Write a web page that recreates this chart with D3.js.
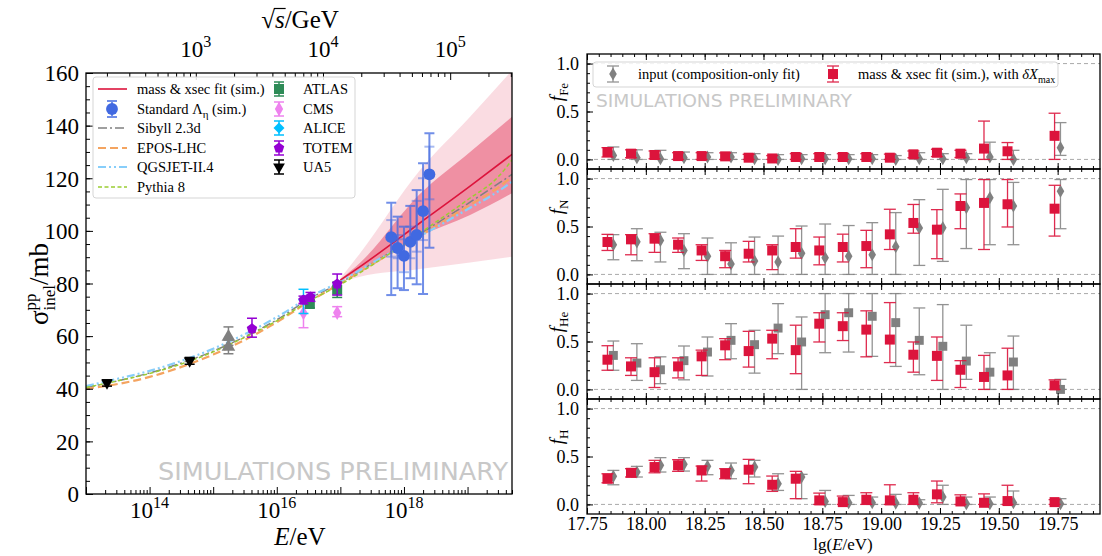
<!DOCTYPE html>
<html>
<head>
<meta charset="utf-8">
<script src="https://cdn.jsdelivr.net/npm/d3@7"></script>
<style>
  body { margin: 0; background: #fff; }
</style>
</head>
<body>
<svg id="chart" width="1102" height="556"></svg>
<script>
// ---------- left panel: cross-section vs energy ----------
// model curves, sampled in lg(E/eV)
const modelLg = [13, 13.5, 14, 14.5, 15, 15.5, 16, 16.5, 17, 17.5, 18, 18.5, 19, 19.5, 19.7];
const sibyll  = [40.5, 43.0, 46.0, 49.8, 54.3, 59.8, 66.2, 74.0, 80.3, 87.6, 95.0, 102.6, 110.3, 118.2, 121.5];
const epos    = [40.0, 41.8, 44.5, 48.3, 53.0, 58.6, 65.3, 73.0, 80.0, 87.3, 94.5, 101.8, 109.3, 116.8, 120.6];
const qgsjet  = [41.0, 43.8, 46.8, 50.6, 55.2, 60.8, 67.2, 74.6, 80.8, 87.8, 94.6, 101.3, 108.2, 115.3, 118.7];
const pythia  = [40.5, 43.0, 45.8, 49.4, 54.0, 59.6, 65.8, 73.2, 79.6, 87.0, 95.0, 103.3, 111.8, 121.0, 127.0];

// mass & xsec fit with 1 and 2 sigma bands
const fitLg  = [17.0, 17.31, 18.25, 19.04, 19.7];
const fitMid = [81.3, 86.4, 103.0, 117.0, 129.1];
const fit1Lo = [81.0, 85.1, 98.0, 106.0, 114.3];
const fit1Hi = [81.6, 87.9, 114.0, 130.0, 143.4];
const fit2Lo = [80.6, 82.6, 85.5, 88.0, 90.2];
const fit2Hi = [82.0, 91.5, 123.0, 143.4, 161.0];

// simulated points, Standard Lambda_eta
const simLg    = [17.8, 17.9, 18.0, 18.1, 18.2, 18.3, 18.4];
const simSig   = [97.6, 93.5, 90.5, 95.8, 98.5, 107.5, 121.5];
const simLo    = [75.6, 78.2, 77.5, 82.0, 79.7, 76.0, 93.6];
const simHi    = [110.7, 105.4, 101.6, 109.5, 115.5, 125.7, 137.1];
const simInLo  = [90.2, 89.6, 84.3, 89.6, 92.1, 96.5, 112.0];
const simInHi  = [104.1, 98.4, 96.8, 101.6, 111.4, 120.0, 132.0];

// accelerator measurements
const ua5Lg = [13.33, 14.63], ua5Sig = [42.2, 50.6], ua5Lo = [41.0, 49.3], ua5Hi = [43.4, 51.9];
const tevLg = [15.24, 15.24], tevSig = [59.7, 55.9], tevLo = [56.5, 53.3], tevHi = [63.5, 58.5];
const totemLg = [15.61, 16.42, 16.53, 16.95], totemSig = [62.8, 73.7, 74.9, 79.8];
const totemLo = [59.6, 72.3, 73.2, 75.6], totemHi = [66.8, 75.2, 76.6, 83.6];
const aliceLg = [16.42], aliceSig = [73.8], aliceLo = [68.6], aliceHi = [77.8];
const atlasLg = [16.52, 16.95], atlasSig = [72.2, 77.6], atlasLo = [70.8, 74.7], atlasHi = [73.6, 80.5];
const cmsLg = [16.42, 16.95], cmsSig = [68.8, 68.9], cmsLo = [63.2, 67.4], cmsHi = [72.6, 71.2];

const bottomExp = [14, 16, 18];
const topExp = [3, 4, 5];

// ---------- right panels: composition fractions ----------
const binLg = [17.85, 17.95, 18.05, 18.15, 18.25, 18.35, 18.45, 18.55, 18.65, 18.75,
               18.85, 18.95, 19.05, 19.15, 19.25, 19.35, 19.45, 19.55, 19.75];

const feRed    = [0.077,0.060,0.046,0.035,0.035,0.032,0.018,0.010,0.025,0.025,0.025,0.025,0.018,0.053,0.070,0.060,0.113,0.085,0.246];
const feRedLo  = [0.025,0.018,0.007,0.000,0.000,0.000,0.000,0.000,0.000,0.000,0.000,0.000,0.000,0.018,0.030,0.020,0.000,0.000,0.000];
const feRedHi  = [0.123,0.100,0.088,0.070,0.070,0.068,0.053,0.040,0.060,0.060,0.060,0.060,0.055,0.088,0.106,0.095,0.400,0.176,0.482];
const feGray   = [0.042,0.018,0.007,0.018,0.025,0.025,0.007,0.000,0.007,0.007,0.007,0.007,0.000,0.007,0.007,0.018,0.025,0.000,0.123];
const feGrayLo = [0,0,0,0,0,0,0,0,0,0,0,0,0,0,0,0,0,0,0.042];
const feGrayHi = [0.130,0.100,0.095,0.077,0.070,0.070,0.060,0.050,0.050,0.050,0.050,0.050,0.040,0.070,0.060,0.060,0.180,0.095,0.384];

const nRed    = [0.338,0.366,0.373,0.310,0.250,0.190,0.216,0.250,0.286,0.250,0.286,0.296,0.418,0.537,0.467,0.714,0.746,0.732,0.686];
const nRedLo  = [0.250,0.205,0.230,0.230,0.146,0.070,0.130,0.050,0.170,0.100,0.130,0.070,0.260,0.430,0.164,0.477,0.260,0.495,0.400];
const nRedHi  = [0.418,0.415,0.425,0.380,0.310,0.250,0.345,0.310,0.477,0.390,0.420,0.460,0.680,0.730,0.676,0.840,0.990,0.990,0.930];
const nGray   = [0.310,0.340,0.355,0.250,0.190,0.110,0.140,0.130,0.220,0.174,0.190,0.205,0.290,0.484,0.488,0.697,0.800,0.714,0.868];
const nGrayLo = [0.153,0.143,0.130,0.060,0,0,0,0,0,0,0,0,0,0.094,0.136,0.270,0.310,0.310,0.477];
const nGrayHi = [0.415,0.477,0.440,0.425,0.380,0.330,0.390,0.400,0.505,0.526,0.510,0.540,0.645,0.780,0.888,0.990,0.990,0.960,0.990];

const heRed    = [0.310,0.240,0.180,0.240,0.345,0.460,0.400,0.530,0.410,0.686,0.660,0.624,0.520,0.362,0.350,0.205,0.130,0.146,0.042];
const heRedLo  = [0.200,0.146,0.020,0.120,0.146,0.310,0.233,0.320,0.164,0.495,0.510,0.340,0.280,0.180,0.094,0.020,0,0,0];
const heRedHi  = [0.456,0.330,0.330,0.330,0.410,0.530,0.606,0.617,0.670,0.800,0.800,0.820,0.906,0.495,0.547,0.300,0.355,0.430,0.100];
const heGray   = [0.355,0.275,0.205,0.300,0.390,0.512,0.467,0.640,0.495,0.780,0.800,0.763,0.697,0.512,0.450,0.296,0.180,0.286,0.000];
const heGrayLo = [0.200,0.094,0.060,0.100,0.140,0.320,0.170,0.373,0,0.383,0.390,0.345,0.240,0.153,0,0.105,0,0,0];
const heGrayHi = [0.505,0.477,0.340,0.453,0.547,0.686,0.617,0.895,0.756,1.0,1.0,1.0,1.0,0.850,0.885,0.670,0.383,0.557,0.105];

const hRed    = [0.268,0.330,0.390,0.408,0.355,0.320,0.362,0.205,0.268,0.042,0.024,0.049,0.042,0.049,0.105,0.031,0.017,0.035,0.024];
const hRedLo  = [0.226,0.286,0.330,0.345,0.244,0.268,0.216,0.136,0.060,0,0,0,0,0,0.017,0,0,0,0];
const hRedHi  = [0.320,0.373,0.460,0.467,0.400,0.373,0.470,0.296,0.345,0.118,0.087,0.122,0.205,0.122,0.244,0.100,0.110,0.200,0.050];
const hGray   = [0.293,0.338,0.408,0.418,0.397,0.355,0.390,0.216,0.286,0.031,0.017,0.017,0.014,0.014,0.077,0.007,0.007,0.017,0.007];
const hGrayLo = [0.205,0.286,0.338,0.348,0.310,0.268,0.286,0.146,0.060,0,0,0,0,0,0,0,0,0,0];
const hGrayHi = [0.355,0.397,0.488,0.488,0.460,0.432,0.460,0.320,0.314,0.146,0.094,0.077,0.105,0.049,0.200,0.077,0.077,0.140,0.060];

const xTickLabels = [17.75, 18.00, 18.25, 18.50, 18.75, 19.00, 19.25, 19.50, 19.75];
const fTicks = [0, 0.5, 1.0];

// ------------------------------------------------------------
const SERIF = "'Liberation Serif','Times New Roman',serif";
const svg = d3.select("#chart");

function errBar(g, x, y0, y1, color, cap, sw, op) {
  const e = g.append("g").attr("stroke", color).attr("stroke-width", sw).attr("opacity", op);
  e.append("line").attr("x1", x).attr("x2", x).attr("y1", y0).attr("y2", y1);
  e.append("line").attr("x1", x - cap / 2).attr("x2", x + cap / 2).attr("y1", y0).attr("y2", y0);
  e.append("line").attr("x1", x - cap / 2).attr("x2", x + cap / 2).attr("y1", y1).attr("y2", y1);
}

function pentagon(r) {
  const pts = d3.range(5).map(k => {
    const a = -Math.PI / 2 + k * 2 * Math.PI / 5;
    return [r * Math.cos(a), r * Math.sin(a)];
  });
  return "M" + pts.join("L") + "Z";
}

function mark(g, kind, x, y, color, size) {
  let path, tr = "translate(" + x + "," + y + ")";
  if (kind == "circle") path = d3.symbol(d3.symbolCircle, size || 100)();
  if (kind == "square") path = d3.symbol(d3.symbolSquare, size || 100)();
  if (kind == "dthin") path = d3.symbol(d3.symbolDiamond, size || 50)();
  if (kind == "D") { path = d3.symbol(d3.symbolSquare, size || 64)(); tr += " rotate(45)"; }
  if (kind == "v") { path = d3.symbol(d3.symbolTriangle, size || 60)(); tr += " rotate(180)"; }
  if (kind == "^") path = d3.symbol(d3.symbolTriangle, size || 80)();
  if (kind == "p") path = pentagon(size || 5.5);
  g.append("path").attr("d", path).attr("transform", tr).attr("fill", color);
}

function styleAxis(g, fs) {
  g.select(".domain").remove();
  g.selectAll(".tick line").attr("stroke", "#000").attr("stroke-width", 1);
  g.attr("font-family", SERIF).attr("font-size", fs);
  g.selectAll(".tick text").attr("fill", "#000");
}

// ================= LEFT PANEL =================
const L = {x0: 86, x1: 512, y0: 73, y1: 494};
const mp = 0.938;
const sqrtS = e => Math.sqrt(2 * mp * e / 1e9);
const xE = d3.scaleLog().domain([1e13, 5e19]).range([L.x0, L.x1]);
const xS = d3.scaleLog().domain([sqrtS(1e13), sqrtS(5e19)]).range([L.x0, L.x1]);
const yS = d3.scaleLinear().domain([0, 160]).range([L.y1, L.y0]);
const X = lg => xE(Math.pow(10, lg));

svg.append("clipPath").attr("id", "clipL").append("rect")
  .attr("x", L.x0).attr("y", L.y0).attr("width", L.x1 - L.x0).attr("height", L.y1 - L.y0);

const lp = svg.append("g").attr("clip-path", "url(#clipL)");

// bands
const band = d3.area().x(d => X(d[0])).y0(d => yS(d[1])).y1(d => yS(d[2])).curve(d3.curveMonotoneX);
lp.append("path").attr("d", band(fitLg.map((v, i) => [v, fit2Lo[i], fit2Hi[i]])))
  .attr("fill", "crimson").attr("fill-opacity", 0.15);
lp.append("path").attr("d", band(fitLg.map((v, i) => [v, fit1Lo[i], fit1Hi[i]])))
  .attr("fill", "crimson").attr("fill-opacity", 0.38);

// model lines
const line = d3.line().x(d => X(d[0])).y(d => yS(d[1])).curve(d3.curveMonotoneX);
const models = [
  {v: sibyll, c: "#808080", w: 1.5, dash: "9,3,2,3", name: "Sibyll 2.3d"},
  {v: epos, c: "#f4a460", w: 2.2, dash: "8,4", name: "EPOS-LHC"},
  {v: qgsjet, c: "#87cefa", w: 2.2, dash: "8,3,2,3,2,3", name: "QGSJET-II.4"},
  {v: pythia, c: "#9acd32", w: 1.5, dash: "4,2.5", name: "Pythia 8"}
];
models.forEach(m => {
  lp.append("path").attr("d", line(modelLg.map((v, i) => [v, m.v[i]])))
    .attr("fill", "none").attr("stroke", m.c).attr("stroke-width", m.w).attr("stroke-dasharray", m.dash);
});
lp.append("path").attr("d", line(fitLg.map((v, i) => [v, fitMid[i]])))
  .attr("fill", "none").attr("stroke", "crimson").attr("stroke-width", 1.6);

// measurements
function series(lgs, sig, lo, hi, kind, color, size) {
  lgs.forEach((v, i) => {
    errBar(lp, X(v), yS(lo[i]), yS(hi[i]), color, 10, 1.5, 1);
    mark(lp, kind, X(v), yS(sig[i]), color, size);
  });
}
series(tevLg, tevSig, tevLo, tevHi, "^", "#808080", 80);
series(ua5Lg, ua5Sig, ua5Lo, ua5Hi, "v", "#000", 60);
series(cmsLg, cmsSig, cmsLo, cmsHi, "dthin", "violet", 60);
series(atlasLg, atlasSig, atlasLo, atlasHi, "square", "seagreen", 100);
series(aliceLg, aliceSig, aliceLo, aliceHi, "D", "deepskyblue", 60);
series(totemLg, totemSig, totemLo, totemHi, "p", "darkviolet", 5.5);

// simulated points
simLg.forEach((v, i) => {
  errBar(lp, X(v), yS(simLo[i]), yS(simHi[i]), "royalblue", 10, 2, 0.75);
  errBar(lp, X(v), yS(simInLo[i]), yS(simInHi[i]), "royalblue", 10, 2, 0.45);
  mark(lp, "circle", X(v), yS(simSig[i]), "royalblue", 110);
});

// axes
const yAx = svg.append("g").attr("transform", "translate(" + L.x0 + ",0)")
  .call(d3.axisLeft(yS).tickValues(d3.range(0, 161, 20)).tickSize(-7).tickSizeOuter(0).tickPadding(7));
styleAxis(yAx, 23);
yAx.selectAll(".tick text").attr("dy", "0.34em");
const yAxm = svg.append("g").attr("transform", "translate(" + L.x0 + ",0)")
  .call(d3.axisLeft(yS).tickValues(d3.range(0, 161, 5)).tickSize(-4).tickSizeOuter(0).tickFormat(""));
styleAxis(yAxm, 10);

const majE = d3.range(13, 20).map(d => Math.pow(10, d));
const minE = [];
d3.range(13, 20).forEach(d => d3.range(2, 10).forEach(m => { if (m * Math.pow(10, d) <= 5e19) minE.push(m * Math.pow(10, d)); }));
const xb = svg.append("g").attr("transform", "translate(0," + L.y1 + ")")
  .call(d3.axisBottom(xE).tickValues(majE).tickSize(-7).tickSizeOuter(0).tickFormat(""));
styleAxis(xb, 10);
const xbm = svg.append("g").attr("transform", "translate(0," + L.y1 + ")")
  .call(d3.axisBottom(xE).tickValues(minE).tickSize(-4).tickSizeOuter(0).tickFormat(""));
styleAxis(xbm, 10);

const majS = [100, 1000, 10000, 100000];
const minS = [];
d3.range(2, 6).forEach(d => d3.range(2, 10).forEach(m => {
  const v = m * Math.pow(10, d);
  if (v >= sqrtS(1e13) && v <= sqrtS(5e19)) minS.push(v);
}));
const xt = svg.append("g").attr("transform", "translate(0," + L.y0 + ")")
  .call(d3.axisTop(xS).tickValues(majS.filter(v => v >= sqrtS(1e13))).tickSize(-7).tickSizeOuter(0).tickFormat(""));
styleAxis(xt, 10);
const xtm = svg.append("g").attr("transform", "translate(0," + L.y0 + ")")
  .call(d3.axisTop(xS).tickValues(minS).tickSize(-4).tickSizeOuter(0).tickFormat(""));
styleAxis(xtm, 10);

// power-of-ten labels
function powLabel(x, y, e, fs) {
  const t = svg.append("text").attr("x", x).attr("y", y).attr("text-anchor", "middle")
    .attr("font-family", SERIF).attr("font-size", fs);
  t.append("tspan").text("10");
  t.append("tspan").attr("dy", -fs * 0.42).attr("font-size", fs * 0.7).text(e);
}
bottomExp.forEach(e => powLabel(xE(Math.pow(10, e)), 518, e, 23));
topExp.forEach(e => powLabel(xS(Math.pow(10, e)), 57, e, 23));

svg.append("rect").attr("x", L.x0).attr("y", L.y0).attr("width", L.x1 - L.x0).attr("height", L.y1 - L.y0)
  .attr("fill", "none").attr("stroke", "#000").attr("stroke-width", 1.3);

// axis titles
const et = svg.append("text").attr("x", 300).attr("y", 545).attr("text-anchor", "middle")
  .attr("font-family", SERIF).attr("font-size", 25);
et.append("tspan").attr("font-style", "italic").text("E");
et.append("tspan").text("/eV");

const st = svg.append("text").attr("x", 300).attr("y", 28).attr("text-anchor", "middle")
  .attr("font-family", SERIF).attr("font-size", 25);
st.append("tspan").text("\u221A");
st.append("tspan").attr("font-style", "italic").text("s");
st.append("tspan").text("/GeV");
{
  const n = st.node();
  const a = n.getStartPositionOfChar(1).x, b = n.getEndPositionOfChar(1).x;
  svg.append("line").attr("x1", a - 1).attr("x2", b + 1).attr("y1", 28 - 19.5).attr("y2", 28 - 19.5)
    .attr("stroke", "#000").attr("stroke-width", 1.2);
}

const sg = svg.append("text").attr("transform", "translate(48,284) rotate(-90)")
  .attr("text-anchor", "middle").attr("font-family", SERIF).attr("font-size", 27);
sg.append("tspan").text("\u03C3");
sg.append("tspan").attr("font-size", 17).attr("dy", -12).text("pp");
sg.append("tspan").attr("font-size", 17).attr("dx", -17).attr("dy", 19).text("inel");
sg.append("tspan").attr("dy", -7).text("/mb");

// watermark
svg.append("text").attr("x", 158).attr("y", 480).attr("font-family", "'DejaVu Sans',sans-serif")
  .attr("font-size", 24).attr("fill", "#c8c8c8").attr("textLength", 350).attr("lengthAdjust", "spacingAndGlyphs")
  .text("SIMULATIONS PRELIMINARY");

// legend
const lg = svg.append("g").attr("font-family", SERIF).attr("font-size", 14.5);
lg.append("rect").attr("x", 93).attr("y", 77).attr("width", 262).attr("height", 121).attr("rx", 3)
  .attr("fill", "#fff").attr("fill-opacity", 0.85).attr("stroke", "#d5d5d5");
const rowY = [89, 109, 128, 148, 167, 187];
// column 1
lg.append("line").attr("x1", 98).attr("x2", 127).attr("y1", rowY[0]).attr("y2", rowY[0])
  .attr("stroke", "crimson").attr("stroke-width", 1.6);
lg.append("text").attr("x", 137).attr("y", rowY[0] + 5).text("mass & xsec fit (sim.)");
errBar(lg, 112, rowY[1] - 8, rowY[1] + 8, "royalblue", 10, 2, 0.75);
mark(lg, "circle", 112, rowY[1], "royalblue", 110);
const sl = lg.append("text").attr("x", 137).attr("y", rowY[1] + 5);
sl.append("tspan").text("Standard \u039B");
sl.append("tspan").attr("font-size", 11).attr("dy", 4).text("\u03B7");
sl.append("tspan").attr("dy", -4).text(" (sim.)");
models.forEach((m, i) => {
  lg.append("line").attr("x1", 98).attr("x2", 127).attr("y1", rowY[i + 2]).attr("y2", rowY[i + 2])
    .attr("stroke", m.c).attr("stroke-width", m.w).attr("stroke-dasharray", m.dash);
  lg.append("text").attr("x", 137).attr("y", rowY[i + 2] + 5).text(m.name);
});
// column 2
const exps = [
  {n: "ATLAS", k: "square", c: "seagreen", s: 100},
  {n: "CMS", k: "dthin", c: "violet", s: 60},
  {n: "ALICE", k: "D", c: "deepskyblue", s: 60},
  {n: "TOTEM", k: "p", c: "darkviolet", s: 5.5},
  {n: "UA5", k: "v", c: "#000", s: 60}
];
exps.forEach((e, i) => {
  errBar(lg, 279, rowY[i] - 7, rowY[i] + 7, e.c, 10, 1.5, 1);
  mark(lg, e.k, 279, rowY[i], e.c, e.s);
  lg.append("text").attr("x", 303).attr("y", rowY[i] + 5).text(e.n);
});

// ================= RIGHT PANELS =================
const R = {x0: 587, x1: 1100};
const xR = d3.scaleLinear().domain([17.75, 19.93]).range([R.x0, R.x1]);
const PH = 115;
const panels = [
  {top: 54,  sub: "Fe", red: feRed, redLo: feRedLo, redHi: feRedHi, gray: feGray, grayLo: feGrayLo, grayHi: feGrayHi, gk: "dthin"},
  {top: 169, sub: "N",  red: nRed,  redLo: nRedLo,  redHi: nRedHi,  gray: nGray,  grayLo: nGrayLo,  grayHi: nGrayHi,  gk: "dthin"},
  {top: 284, sub: "He", red: heRed, redLo: heRedLo, redHi: heRedHi, gray: heGray, grayLo: heGrayLo, grayHi: heGrayHi, gk: "square"},
  {top: 399, sub: "H",  red: hRed,  redLo: hRedLo,  redHi: hRedHi,  gray: hGray,  grayLo: hGrayLo,  grayHi: hGrayHi,  gk: "dthin"}
];
const majX = d3.range(0, 9).map(i => 17.75 + 0.25 * i);
const minX = d3.range(0, 44).map(i => 17.75 + 0.05 * i);

panels.forEach((p, pi) => {
  const yR = d3.scaleLinear().domain([-0.1, 1.1]).range([p.top + PH, p.top]);
  const g = svg.append("g");
  g.append("clipPath").attr("id", "clipR" + pi).append("rect")
    .attr("x", R.x0).attr("y", p.top).attr("width", R.x1 - R.x0).attr("height", PH);
  const pg = g.append("g").attr("clip-path", "url(#clipR" + pi + ")");

  [0, 1].forEach(v => pg.append("line").attr("x1", R.x0).attr("x2", R.x1).attr("y1", yR(v)).attr("y2", yR(v))
    .attr("stroke", "#aaa").attr("stroke-width", 1).attr("stroke-dasharray", "4,3"));

  binLg.forEach((b, i) => {
    const xg = xR(b + 0.012), xr = xR(b - 0.013);
    errBar(pg, xg, yR(p.grayLo[i]), yR(p.grayHi[i]), "#808080", 12, 1.3, 0.85);
    mark(pg, p.gk, xg, yR(p.gray[i]), "#808080", p.gk == "square" ? 80 : 50);
    errBar(pg, xr, yR(p.redLo[i]), yR(p.redHi[i]), "crimson", 12, 1.3, 0.9);
    mark(pg, "square", xr, yR(p.red[i]), "crimson", 100);
  });

  // ticks
  const bottom = pi == 3;
  const xa = g.append("g").attr("transform", "translate(0," + (p.top + PH) + ")")
    .call(d3.axisBottom(xR).tickValues(xTickLabels).tickSize(-6).tickSizeOuter(0).tickPadding(3)
      .tickFormat(bottom ? d3.format(".2f") : ""));
  styleAxis(xa, 18);
  const xam = g.append("g").attr("transform", "translate(0," + (p.top + PH) + ")")
    .call(d3.axisBottom(xR).tickValues(minX).tickSize(-3).tickSizeOuter(0).tickFormat(""));
  styleAxis(xam, 10);
  const xat = g.append("g").attr("transform", "translate(0," + p.top + ")")
    .call(d3.axisTop(xR).tickValues(majX).tickSize(-6).tickSizeOuter(0).tickFormat(""));
  styleAxis(xat, 10);
  const xatm = g.append("g").attr("transform", "translate(0," + p.top + ")")
    .call(d3.axisTop(xR).tickValues(minX).tickSize(-3).tickSizeOuter(0).tickFormat(""));
  styleAxis(xatm, 10);
  const ya = g.append("g").attr("transform", "translate(" + R.x0 + ",0)")
    .call(d3.axisLeft(yR).tickValues(fTicks).tickSize(-6).tickSizeOuter(0).tickPadding(8).tickFormat(d3.format(".1f")));
  styleAxis(ya, 18);
  const yam = g.append("g").attr("transform", "translate(" + R.x0 + ",0)")
    .call(d3.axisLeft(yR).tickValues(d3.range(0, 11).map(i => i / 10)).tickSize(-3).tickSizeOuter(0).tickFormat(""));
  styleAxis(yam, 10);

  g.append("rect").attr("x", R.x0).attr("y", p.top).attr("width", R.x1 - R.x0).attr("height", PH)
    .attr("fill", "none").attr("stroke", "#000").attr("stroke-width", 1.3);

  const fl = g.append("text").attr("transform", "translate(563," + (p.top + 38) + ") rotate(-90)")
    .attr("text-anchor", "middle").attr("font-family", SERIF).attr("font-size", 19);
  fl.append("tspan").attr("font-style", "italic").text("f");
  fl.append("tspan").attr("font-size", 13).attr("dy", 5).text(p.sub);
});

// right axis title
const rt = svg.append("text").attr("x", 843).attr("y", 550).attr("text-anchor", "middle")
  .attr("font-family", SERIF).attr("font-size", 17);
rt.append("tspan").text("lg(");
rt.append("tspan").attr("font-style", "italic").text("E");
rt.append("tspan").text("/eV)");

// right watermark
svg.append("text").attr("x", 596).attr("y", 107).attr("font-family", "'DejaVu Sans',sans-serif")
  .attr("font-size", 18).attr("fill", "#c8c8c8").attr("textLength", 256).attr("lengthAdjust", "spacingAndGlyphs")
  .text("SIMULATIONS PRELIMINARY");

// right legend
const rl = svg.append("g").attr("font-family", SERIF).attr("font-size", 14.5);
rl.append("rect").attr("x", 593).attr("y", 62).attr("width", 465).attr("height", 25).attr("rx", 3)
  .attr("fill", "#fff").attr("fill-opacity", 0.85).attr("stroke", "#d5d5d5");
errBar(rl, 613, 66, 82, "#808080", 12, 1.3, 0.85);
mark(rl, "dthin", 613, 74, "#808080", 50);
rl.append("text").attr("x", 638).attr("y", 79).text("input (composition-only fit)");
errBar(rl, 833, 66, 82, "crimson", 12, 1.3, 0.9);
mark(rl, "square", 833, 74, "crimson", 100);
const rlt = rl.append("text").attr("x", 858).attr("y", 79);
rlt.append("tspan").text("mass & xsec fit (sim.), with ");
rlt.append("tspan").attr("font-style", "italic").text("\u03B4X");
rlt.append("tspan").attr("font-size", 10).attr("dy", 4).text("max");
</script>
</body>
</html>
